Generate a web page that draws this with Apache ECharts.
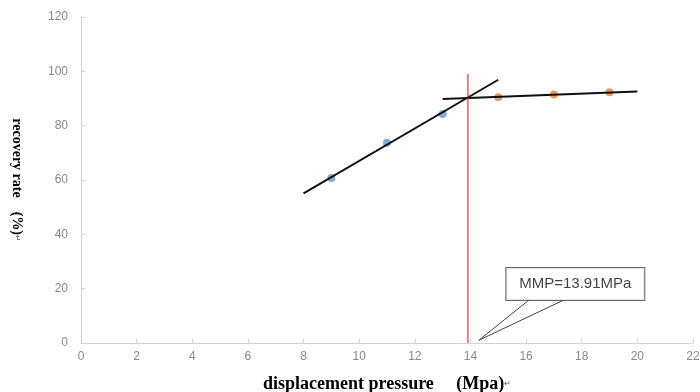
<!DOCTYPE html>
<html>
<head>
<meta charset="utf-8">
<script src="https://cdn.jsdelivr.net/npm/echarts@6/dist/echarts.min.js"></script>
<style>
  html, body { margin: 0; padding: 0; background: #fff; }
  #chart { width: 700px; height: 392px; }
</style>
</head>
<body>
<div id="chart"></div>
<script>
// 数据
var lowPressure = [[9, 60.7], [11, 73.7], [13, 84.3]];
var highPressure = [[15, 90.5], [17, 91.5], [19, 92.3]];
var fitLow = [[8, 55.1], [15, 96.9]];
var fitHigh = [[13, 89.8], [20, 92.6]];
var mmpValue = 13.91;
var mmpLine = [[mmpValue, 0], [mmpValue, 99]];
var calloutTail = [[16.1, 15.8], [14.3, 1.0], [17.35, 15.8]];
var calloutBox = [[17.77, 21.7]];
var calloutText = "MMP=13.91MPa";
var xTicks = [0, 2, 4, 6, 8, 10, 12, 14, 16, 18, 20, 22];
var yTicks = [0, 20, 40, 60, 80, 100, 120];

var chart = echarts.init(document.getElementById("chart"));

var tickLabel = {
  color: "#8a8a8a",
  fontSize: 12,
  fontFamily: "Liberation Sans, Arial"
};
var axisLine = { show: true, lineStyle: { color: "#d4d4d4", width: 1 } };
// 回车符号小一点
var returnMark = { fontSize: 8, fontWeight: "normal", color: "#555", fontFamily: "DejaVu Sans" };

var option = {
  animation: false,
  backgroundColor: "#fff",
  grid: {
    left: 81, right: 7, top: 17, bottom: 49,
    containLabel: false,
    outerBoundsMode: "none"
  },
  xAxis: {
    type: "value",
    min: xTicks[0],
    max: xTicks[xTicks.length - 1],
    interval: 2,
    name: "displacement pressure\u3000 (Mpa){r|\u21b5}",
    nameLocation: "middle",
    nameGap: 32,
    nameTextStyle: {
      fontFamily: "Liberation Serif, Times New Roman",
      fontWeight: "bold",
      fontSize: 18,
      color: "#000",
      rich: { r: returnMark }
    },
    axisLine: axisLine,
    axisTick: { show: true, inside: true, length: 4, lineStyle: { color: "#d4d4d4" } },
    axisLabel: Object.assign({ margin: 8 }, tickLabel),
    splitLine: { show: false }
  },
  yAxis: {
    type: "value",
    min: yTicks[0],
    max: yTicks[yTicks.length - 1],
    interval: 20,
    name: "recovery rate\u3000(%){r|\u21b5}",
    nameLocation: "middle",
    nameRotate: -90,
    nameGap: 57,
    nameTextStyle: {
      fontFamily: "Liberation Serif, Times New Roman",
      fontWeight: "bold",
      fontSize: 14,
      color: "#000",
      rich: { r: returnMark }
    },
    axisLine: axisLine,
    axisTick: { show: true, inside: true, length: 4, lineStyle: { color: "#d4d4d4" } },
    axisLabel: Object.assign({ margin: 13 }, tickLabel),
    splitLine: { show: false }
  },
  series: [
    {
      type: "line",
      data: fitLow,
      symbol: "none",
      lineStyle: { color: "#111", width: 2 },
      z: 3
    },
    {
      type: "line",
      data: fitHigh,
      symbol: "none",
      lineStyle: { color: "#111", width: 2 },
      z: 3
    },
    {
      type: "scatter",
      data: lowPressure,
      symbolSize: 8,
      itemStyle: { color: "#5b9bd5" },
      z: 2
    },
    {
      type: "scatter",
      data: highPressure,
      symbolSize: 8,
      itemStyle: { color: "#ed7d31" },
      z: 2
    },
    {
      type: "line",
      data: mmpLine,
      symbol: "none",
      lineStyle: { color: "#ff0000", width: 1 },
      z: 4
    },
    {
      type: "line",
      data: calloutTail,
      symbol: "none",
      lineStyle: { color: "#444", width: 1 },
      z: 5
    },
    {
      type: "scatter",
      data: calloutBox,
      symbolSize: 0,
      z: 6,
      label: {
        show: true,
        position: "inside",
        formatter: calloutText,
        color: "#111",
        fontSize: 15,
        fontFamily: "Liberation Sans, Arial",
        backgroundColor: "#fff",
        borderColor: "#444",
        borderWidth: 1,
        padding: [9, 17, 8, 17],
        width: 104,
        align: "center",
        verticalAlign: "middle"
      }
    }
  ]
};

chart.setOption(option);
</script>
</body>
</html>
